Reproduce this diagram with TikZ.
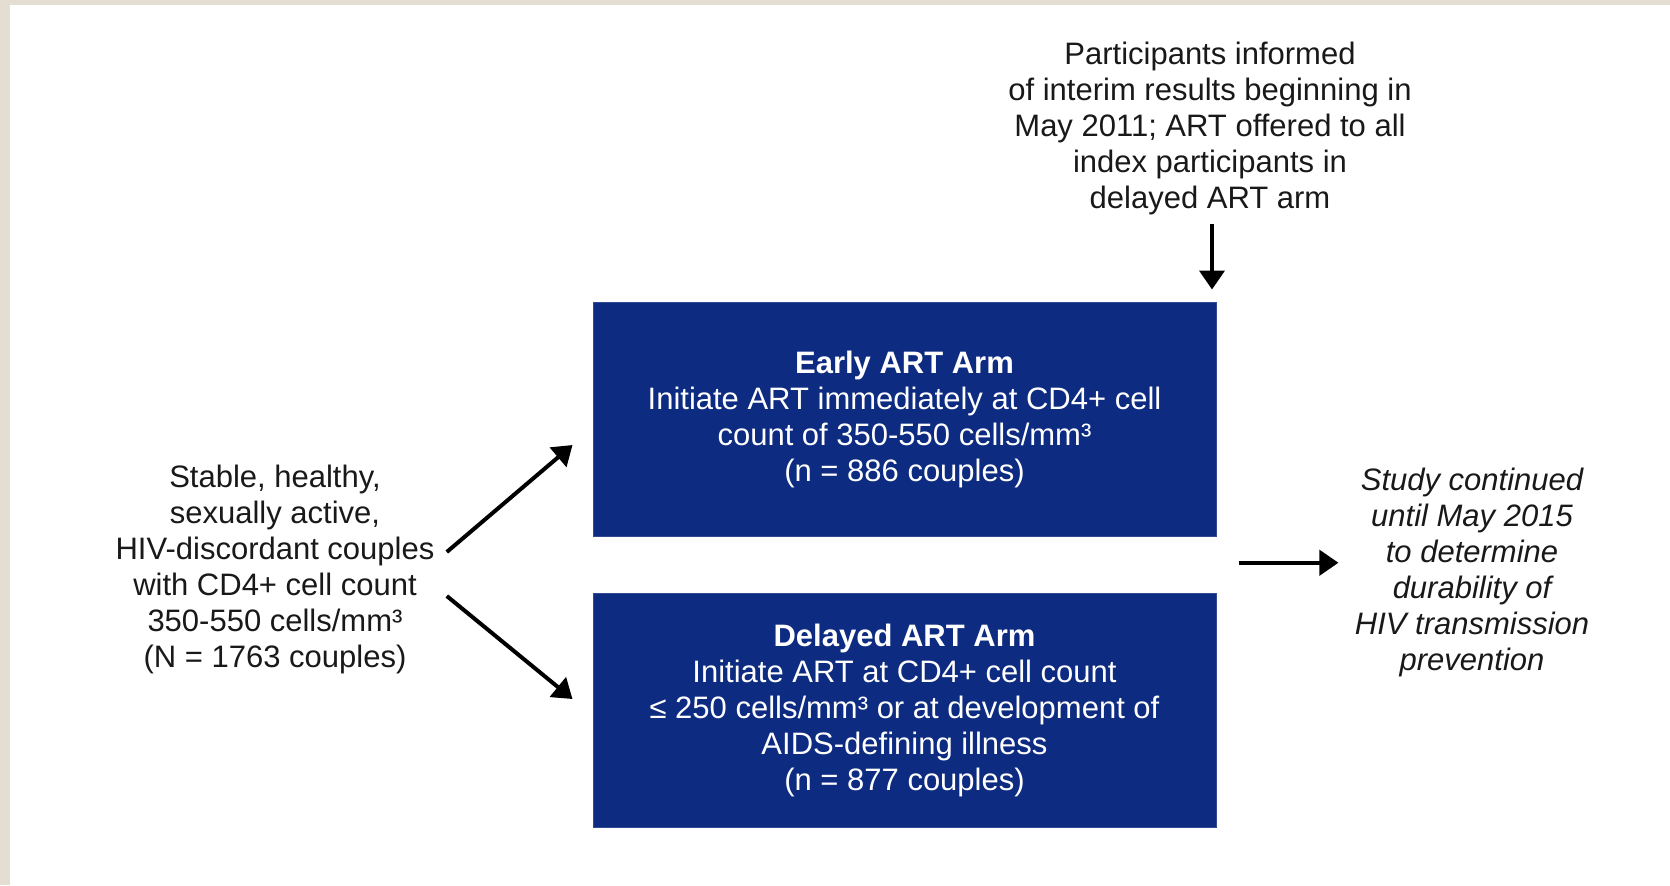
\documentclass[tikz,border=0pt]{standalone}
\usepackage{fontspec}
\setmainfont{Liberation Sans}
\usetikzlibrary{arrows.meta,calc}
\definecolor{beige}{RGB}{228,222,210}
\definecolor{armblue}{RGB}{13,43,128}
\definecolor{txt}{RGB}{25,25,25}
\tikzset{
  lbl/.style={align=center,inner sep=0pt,text=txt,font=\fontsize{15.5}{18}\selectfont},
  arm/.style={fill=armblue,draw=armblue!85!white,line width=0.5pt,minimum width=311.5pt,minimum height=117pt,inner sep=0pt,align=center,text=white,font=\fontsize{15.5}{18}\selectfont},
  arr/.style={line width=2pt,-{Triangle[length=9.5pt,width=12.5pt]},draw=black}
}
\begin{document}
\begin{tikzpicture}[x=0.5pt,y=-0.5pt]
\useasboundingbox (0,0) rectangle (1670,885);
\fill[beige] (0,0) rectangle (1670,885);
\fill[white] (10,5) rectangle (1670,885);

\node[lbl] (top) at (1210,128) {Participants informed\\of interim results beginning in\\May 2011; ART offered to all\\index participants in\\delayed ART arm};
\node[lbl] (left) at (275,569) {Stable, healthy,\\sexually active,\\HIV-discordant couples\\with CD4+ cell count\\350-550 cells/mm³\\(N = 1763 couples)};
\node[lbl,font=\fontsize{15.5}{18}\selectfont\itshape] (right) at (1472,572) {Study continued\\until May 2015\\to determine\\durability of\\HIV transmission\\prevention};

\node[arm] (early) at (904.5,419) {\textbf{Early ART Arm}\\Initiate ART immediately at CD4+ cell\\count of 350-550 cells/mm³\\(n = 886 couples)};
\node[arm] (delayed) at (904.5,710.5) {\textbf{Delayed ART Arm}\\Initiate ART at CD4+ cell count\\≤ 250 cells/mm³ or at development of\\AIDS-defining illness\\(n = 877 couples)};

\coordinate (gap) at ($(early.south east)!0.5!(delayed.north east)$);

\draw[arr] ([shift={(2,9)}]top.south) -- ([shift={(2,-12)}]top.south |- early.north);
\draw[arr] ([shift={(12,-17)}]left.east) -- ([shift={(-20,26)}]early.west);
\draw[arr] ([shift={(12,27)}]left.east) -- ([shift={(-20,-11.5)}]delayed.west);
\draw[arr] ([shift={(22,-2)}]gap) -- ($(right.west |- gap)+(-16,-2)$);
\end{tikzpicture}
\end{document}
